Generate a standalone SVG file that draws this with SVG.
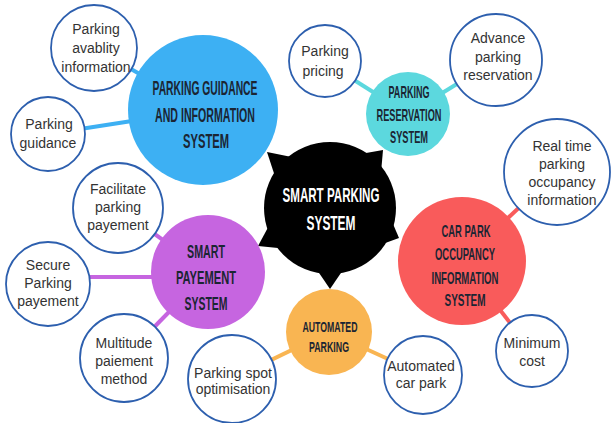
<svg xmlns="http://www.w3.org/2000/svg" width="612" height="423" viewBox="0 0 612 423">
  <style>
    .sat { fill: #ffffff; stroke: #2d5fae; stroke-width: 1.8; }
    .st { font-family: "Liberation Sans", Arial, sans-serif; font-size: 14px; fill: #333333; text-anchor: middle; }
    .hub { font-family: "Liberation Sans", Arial, sans-serif; font-weight: bold; fill: #1b2533; text-anchor: middle; }
    .core { font-family: "Liberation Sans", Arial, sans-serif; font-weight: bold; fill: #ffffff; text-anchor: middle; font-size: 20px; }
    .c-blue { stroke: #3db0f3; }
    .c-cyan { stroke: #5cd8de; }
    .c-purple { stroke: #c665e0; }
    .c-orange { stroke: #f9b552; }
    .c-red { stroke: #f95b5b; }
    #connectors line { stroke-width: 4; }
  </style>
  <rect width="612" height="423" fill="#ffffff"/>

  <!-- connectors between hubs and their satellites -->
  <g id="connectors">
    <line class="c-blue" x1="203" y1="110" x2="94" y2="48"/>
    <line class="c-blue" x1="203" y1="110" x2="48" y2="134"/>
    <line class="c-purple" x1="208" y1="272" x2="118" y2="208"/>
    <line class="c-purple" x1="208" y1="277" x2="48" y2="277"/>
    <line class="c-purple" x1="208" y1="272" x2="124" y2="358"/>
    <line class="c-orange" x1="329" y1="332" x2="232" y2="379"/>
    <line class="c-orange" x1="329" y1="332" x2="423" y2="375"/>
    <line class="c-red" x1="462" y1="261" x2="557" y2="172"/>
    <line class="c-red" x1="462" y1="261" x2="532" y2="351"/>
    <line class="c-cyan" x1="408" y1="114" x2="354" y2="80"/>
    <line class="c-cyan" x1="408" y1="114" x2="496" y2="60"/>
  </g>

  <!-- central node with spikes -->
  <g id="smart-parking-system">
    <circle cx="330" cy="208" r="66" fill="#000000"/>
    <polygon points="267,152 275.6,178.3 294.1,157.5" fill="#000000"/>
    <polygon points="383,150 360.4,154 381,172.8" fill="#000000"/>
    <polygon points="258,246 283,248.5 270,223.8" fill="#000000"/>
    <polygon points="399,238 391,219.3 379.8,244.9" fill="#000000"/>
    <polygon points="330,289 344,268.4 316,268.4" fill="#000000"/>
    <text class="core" x="331" y="202" textLength="97" lengthAdjust="spacingAndGlyphs">SMART PARKING</text>
    <text class="core" x="331" y="230" textLength="49" lengthAdjust="spacingAndGlyphs">SYSTEM</text>
  </g>

  <!-- parking guidance hub -->
  <g id="parking-guidance-information-system">
    <circle cx="203" cy="110" r="75" fill="#3db0f3"/>
    <text class="hub" font-size="21" x="205" y="95" textLength="105" lengthAdjust="spacingAndGlyphs">PARKING GUIDANCE</text>
    <text class="hub" font-size="21" x="205" y="122" textLength="100" lengthAdjust="spacingAndGlyphs">AND INFORMATION</text>
    <text class="hub" font-size="21" x="206" y="148" textLength="46" lengthAdjust="spacingAndGlyphs">SYSTEM</text>
  </g>
  <g id="parking-availability-information">
    <circle class="sat" cx="94" cy="48" r="43"/>
    <text class="st" x="96" y="34">Parking</text>
    <text class="st" x="96" y="53">avablity</text>
    <text class="st" x="96" y="72">information</text>
  </g>
  <g id="parking-guidance">
    <circle class="sat" cx="48" cy="134" r="37"/>
    <text class="st" x="49" y="129">Parking</text>
    <text class="st" x="48" y="148">guidance</text>
  </g>

  <!-- reservation hub -->
  <g id="parking-reservation-system">
    <circle cx="408" cy="114" r="42" fill="#5cd8de"/>
    <text class="hub" font-size="17" x="409" y="98" textLength="41" lengthAdjust="spacingAndGlyphs">PARKING</text>
    <text class="hub" font-size="17" x="409" y="121" textLength="65" lengthAdjust="spacingAndGlyphs">RESERVATION</text>
    <text class="hub" font-size="17" x="409" y="143" textLength="38" lengthAdjust="spacingAndGlyphs">SYSTEM</text>
  </g>
  <g id="parking-pricing">
    <circle class="sat" cx="325" cy="61" r="36"/>
    <text class="st" x="325" y="56">Parking</text>
    <text class="st" x="323" y="76">pricing</text>
  </g>
  <g id="advance-parking-reservation">
    <circle class="sat" cx="496" cy="60" r="46"/>
    <text class="st" x="498" y="43">Advance</text>
    <text class="st" x="498" y="62">parking</text>
    <text class="st" x="498" y="80">reservation</text>
  </g>

  <!-- occupancy hub -->
  <g id="car-park-occupancy-information-system">
    <circle cx="462" cy="261" r="64" fill="#f95b5b"/>
    <text class="hub" font-size="17" x="466" y="237" textLength="49" lengthAdjust="spacingAndGlyphs">CAR PARK</text>
    <text class="hub" font-size="17" x="465" y="260" textLength="60" lengthAdjust="spacingAndGlyphs">OCCUPANCY</text>
    <text class="hub" font-size="17" x="465" y="284" textLength="67" lengthAdjust="spacingAndGlyphs">INFORMATION</text>
    <text class="hub" font-size="17" x="465" y="306" textLength="41" lengthAdjust="spacingAndGlyphs">SYSTEM</text>
  </g>
  <g id="real-time-parking-occupancy-information">
    <circle class="sat" cx="557" cy="172" r="53"/>
    <text class="st" x="562" y="151">Real time</text>
    <text class="st" x="562" y="169">parking</text>
    <text class="st" x="562" y="187">occupancy</text>
    <text class="st" x="562" y="205">information</text>
  </g>
  <g id="minimum-cost">
    <circle class="sat" cx="532" cy="351" r="36"/>
    <text class="st" x="532" y="348">Minimum</text>
    <text class="st" x="532" y="366">cost</text>
  </g>

  <!-- automated parking hub -->
  <g id="automated-parking">
    <circle cx="329" cy="332" r="43" fill="#f9b552"/>
    <text class="hub" font-size="15" x="330" y="332" textLength="55" lengthAdjust="spacingAndGlyphs">AUTOMATED</text>
    <text class="hub" font-size="15" x="329" y="352" textLength="40" lengthAdjust="spacingAndGlyphs">PARKING</text>
  </g>
  <g id="parking-spot-optimisation">
    <circle class="sat" cx="232" cy="379" r="44"/>
    <text class="st" x="233" y="378">Parking spot</text>
    <text class="st" x="233" y="394">optimisation</text>
  </g>
  <g id="automated-car-park">
    <circle class="sat" cx="423" cy="375" r="39"/>
    <text class="st" x="421" y="371">Automated</text>
    <text class="st" x="421" y="388">car park</text>
  </g>

  <!-- payment hub -->
  <g id="smart-payement-system">
    <circle cx="208" cy="272" r="57" fill="#c665e0"/>
    <text class="hub" font-size="19" x="206" y="258" textLength="38" lengthAdjust="spacingAndGlyphs">SMART</text>
    <text class="hub" font-size="19" x="206" y="284" textLength="60" lengthAdjust="spacingAndGlyphs">PAYEMENT</text>
    <text class="hub" font-size="19" x="206" y="310" textLength="43" lengthAdjust="spacingAndGlyphs">SYSTEM</text>
  </g>
  <g id="facilitate-parking-payement">
    <circle class="sat" cx="118" cy="208" r="45"/>
    <text class="st" x="118" y="194">Facilitate</text>
    <text class="st" x="118" y="212">parking</text>
    <text class="st" x="118" y="230">payement</text>
  </g>
  <g id="secure-parking-payement">
    <circle class="sat" cx="48" cy="284" r="42"/>
    <text class="st" x="48" y="270">Secure</text>
    <text class="st" x="48" y="288">Parking</text>
    <text class="st" x="48" y="306">payement</text>
  </g>
  <g id="multitude-paiement-method">
    <circle class="sat" cx="124" cy="358" r="44"/>
    <text class="st" x="124" y="348">Multitude</text>
    <text class="st" x="124" y="366">paiement</text>
    <text class="st" x="124" y="384">method</text>
  </g>
</svg>
